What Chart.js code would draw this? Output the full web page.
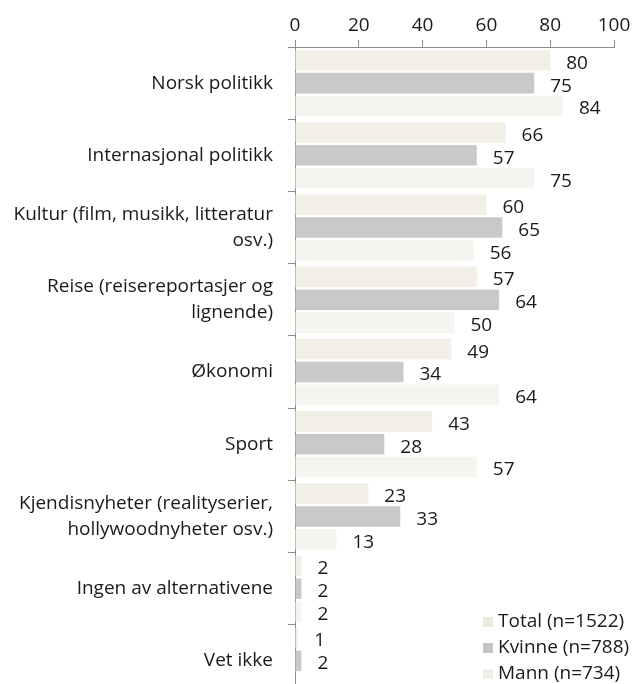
<!DOCTYPE html>
<html>
<head>
<meta charset="utf-8">
<script src="https://cdn.jsdelivr.net/npm/chart.js@4.4.0/dist/chart.umd.min.js"></script>
<style>
  html, body { margin: 0; padding: 0; background: #fff; overflow: hidden; }
  canvas { display: block; }
</style>
</head>
<body>
<canvas id="grafMedier" width="634" height="725"></canvas>
<script>
const kategorier = [
  "Norsk politikk",
  "Internasjonal politikk",
  ["Kultur (film, musikk, litteratur", "osv.)"],
  ["Reise (reisereportasjer og", "lignende)"],
  "Økonomi",
  "Sport",
  ["Kjendisnyheter (realityserier,", "hollywoodnyheter osv.)"],
  "Ingen av alternativene",
  "Vet ikke"
];
const total  = [80, 66, 60, 57, 49, 43, 23, 2, 1];
const kvinne = [75, 57, 65, 64, 34, 28, 33, 2, 2];
const mann   = [84, 75, 56, 50, 64, 57, 13, 2, null];
const xTicks = [0, 20, 40, 60, 80, 100];

const FONT = "'Open Sans', Lato, sans-serif";

// tall verdi til høyre for hver stolpe
const verdiEtiketter = {
  id: 'verdiEtiketter',
  afterDatasetsDraw(chart) {
    const ctx = chart.ctx;
    ctx.save();
    ctx.font = "19px " + FONT;
    ctx.fillStyle = "#1a1a1a";
    ctx.textAlign = "left";
    ctx.textBaseline = "middle";
    chart.data.datasets.forEach((ds, i) => {
      chart.getDatasetMeta(i).data.forEach((bar, j) => {
        const v = ds.data[j];
        if (v === null || v === undefined) return;
        ctx.fillText(v, bar.x + 16, bar.y + 3);
      });
    });
    ctx.restore();
  }
};

// egen forklaring nede til høyre
const forklaring = {
  id: 'forklaring',
  afterDraw(chart) {
    const ctx = chart.ctx;
    ctx.save();
    ctx.font = "19px " + FONT;
    ctx.textBaseline = "middle";
    chart.data.datasets.forEach((ds, i) => {
      const y = 622 + i * 26;
      ctx.fillStyle = ds.legendColor;
      ctx.fillRect(483, y - 5, 10, 10);
      ctx.fillStyle = "#1a1a1a";
      ctx.fillText(ds.label, 498, y);
    });
    ctx.restore();
  }
};

new Chart(document.getElementById("grafMedier"), {
  type: 'bar',
  data: {
    labels: kategorier,
    datasets: [
      { label: "Total (n=1522)", data: total,  backgroundColor: '#F2EFE7', legendColor: '#ECE9DF' },
      { label: "Kvinne (n=788)", data: kvinne, backgroundColor: '#C9C9C9', legendColor: '#C4C4C4' },
      { label: "Mann (n=734)",   data: mann,   backgroundColor: '#F5F5EF', legendColor: '#EFEFE7' }
    ]
  },
  options: {
    indexAxis: 'y',
    responsive: false,
    animation: false,
    categoryPercentage: 0.95,
    barPercentage: 0.9,
    layout: { padding: { top: 0, right: 20, bottom: 8, left: 0 } },
    plugins: { legend: { display: false }, tooltip: { enabled: false } },
    scales: {
      x: {
        position: 'top',
        min: 0,
        max: 100,
        afterBuildTicks(axis) { axis.ticks = xTicks.map(v => ({ value: v })); },
        afterFit(axis) { axis.height = 47; },
        ticks: { font: { family: FONT, size: 19 }, color: '#1a1a1a', padding: 3 },
        grid: { drawOnChartArea: false, tickLength: 7, color: '#8c8c8c' },
        border: { color: '#8c8c8c' }
      },
      y: {
        afterFit(axis) { axis.width = 295; },
        ticks: { font: { family: FONT, size: 19, lineHeight: 1.37 }, color: '#1a1a1a', padding: 15 },
        grid: { drawOnChartArea: false, tickLength: 7, color: '#8c8c8c', offset: true },
        border: { color: '#8c8c8c' }
      }
    }
  },
  plugins: [verdiEtiketter, forklaring]
});
</script>
</body>
</html>
